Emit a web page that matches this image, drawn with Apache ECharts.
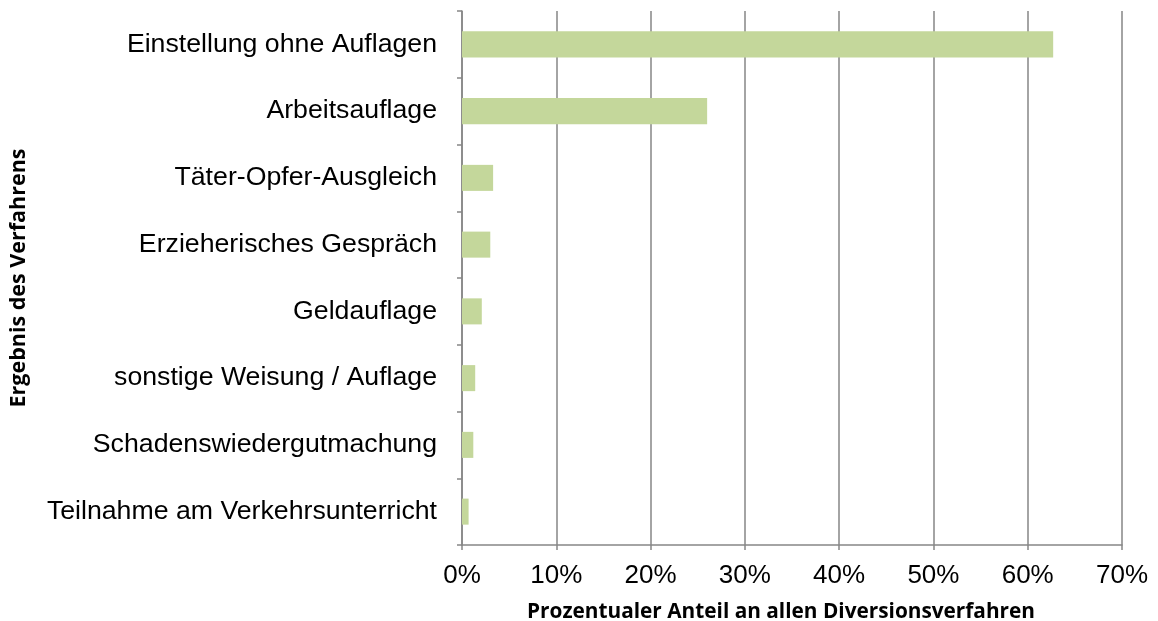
<!DOCTYPE html>
<html>
<head>
<meta charset="utf-8">
<script src="https://cdn.jsdelivr.net/npm/echarts@6/dist/echarts.min.js"></script>
<style>html,body{margin:0;padding:0;background:#fff}#c{width:1158px;height:621px}</style>
</head>
<body>
<div id="c"></div>
<script>
const categories = [
  "Einstellung ohne Auflagen",
  "Arbeitsauflage",
  "Täter-Opfer-Ausgleich",
  "Erzieherisches Gespräch",
  "Geldauflage",
  "sonstige Weisung / Auflage",
  "Schadenswiedergutmachung",
  "Teilnahme am Verkehrsunterricht"
];
const values = [62.7, 26.0, 3.3, 3.0, 2.1, 1.4, 1.2, 0.7];
const xTicks = [0, 10, 20, 30, 40, 50, 60, 70];
const xAxisTitle = "Prozentualer Anteil an allen Diversionsverfahren";
const yAxisTitle = "Ergebnis des Verfahrens";

const chart = echarts.init(document.getElementById('c'), null, {renderer: 'canvas'});
chart.setOption({
  animation: false,
  grid: {left: 462, right: 36, top: 11, bottom: 76, containLabel: false, outerBoundsMode: 'none'},
  xAxis: {
    type: 'value', min: xTicks[0], max: xTicks[xTicks.length - 1], interval: 10,
    axisLabel: {formatter: v => v + '%', fontFamily: 'Liberation Sans', fontSize: 26, color: '#000', margin: 18},
    axisLine: {show: true, lineStyle: {color: '#868686', width: 1.5}},
    axisTick: {show: true, length: 5, lineStyle: {color: '#868686', width: 1.5}},
    splitLine: {show: true, lineStyle: {color: '#868686', width: 1.5}},
    name: xAxisTitle, nameLocation: 'middle', nameGap: 57,
    nameTextStyle: {fontFamily: 'Open Sans', fontWeight: 'bold', fontSize: 20.8, color: '#000', padding: [0, 22, 0, 0]}
  },
  yAxis: {
    type: 'category', data: categories, inverse: true,
    axisLabel: {fontFamily: 'Liberation Sans', fontSize: 26.7, color: '#000', margin: 25},
    axisLine: {show: true, lineStyle: {color: '#868686', width: 1.5}},
    axisTick: {show: true, length: 5, lineStyle: {color: '#868686', width: 1.5}},
    name: yAxisTitle, nameLocation: 'middle', nameGap: 432, nameRotate: 90,
    nameTextStyle: {fontFamily: 'Open Sans', fontWeight: 'bold', fontSize: 21.5, color: '#000'}
  },
  series: [{
    type: 'bar', data: values, barCategoryGap: '61%',
    itemStyle: {color: '#c4d79b'}
  }]
});
</script>
</body>
</html>
